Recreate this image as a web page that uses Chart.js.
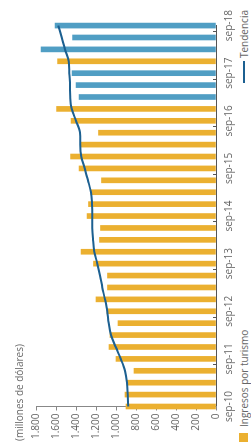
<!DOCTYPE html>
<html>
<head>
<meta charset="utf-8">
<script src="https://cdn.jsdelivr.net/npm/chart.js@4"></script>
<style>
  html, body { margin: 0; padding: 0; background: #fff; overflow: hidden; }
  /* the whole chart is drawn upright, then turned a quarter to the left */
  #giro {
    position: absolute; left: 0; top: 0;
    width: 443px; height: 251px;
    transform-origin: 0 0;
    transform: translateY(443px) rotate(-90deg);
    font-family: 'Open Sans', sans-serif;
  }
  #leyenda {
    box-sizing: border-box; width: 443px; height: 15px;
    display: flex; justify-content: space-between; align-items: center;
    padding: 0 10px 0 1px; font-size: 10px; color: #666;
  }
  #leyenda span { display: flex; align-items: center; }
  .caja { width: 9px; height: 9px; background: #ebb030; margin-right: 6px; }
  .raya { width: 22px; height: 2px; background: #1c6091; margin-right: 3px; }
</style>
</head>
<body>
<div id="giro">
  <canvas id="myChart" width="443" height="236"></canvas>
  <div id="leyenda">
    <span><i class="caja"></i>Ingresos por turismo</span>
    <span><i class="raya"></i>Tendencia</span>
  </div>
</div>
<script>
const trimestres = ['sep-10','dic-10','mar-11','jun-11','sep-11','dic-11','mar-12','jun-12','sep-12','dic-12',
  'mar-13','jun-13','sep-13','dic-13','mar-14','jun-14','sep-14','dic-14','mar-15','jun-15','sep-15','dic-15',
  'mar-16','jun-16','sep-16','dic-16','mar-17','jun-17','sep-17','dic-17','mar-18','jun-18','sep-18'];

const ingresos = [900, 910, 890, 820, 1000, 1070, 1060, 980, 1090, 1200, 1085, 1085, 1225, 1350, 1165, 1155,
  1290, 1275, 1250, 1145, 1370, 1455, 1350, 1175, 1450, 1595, 1370, 1400, 1440, 1585, 1750, 1435, 1610];

const tendencia = [877, 883, 890, 910, 953, 1003, 1050, 1073, 1087, 1110, 1137, 1160, 1187, 1217, 1230, 1237,
  1237, 1240, 1250, 1280, 1313, 1347, 1357, 1360, 1400, 1443, 1457, 1460, 1467, 1473, 1510, 1543, 1577];

// quarters painted in blue
const resaltados = ['mar-17','jun-17','sep-17','mar-18','jun-18','sep-18'];

const valoresEje = [0, 1800, 200];

Chart.defaults.font.family = "'Open Sans', sans-serif";
Chart.defaults.font.size = 10;
Chart.defaults.color = '#666';

const ctx = document.getElementById('myChart').getContext('2d');
const myChart = new Chart(ctx, {
  type: 'bar',
  data: {
    labels: trimestres,
    datasets: [{
      type: 'line',
      label: 'Tendencia',
      data: tendencia,
      borderColor: '#1c6091',
      borderWidth: 2,
      pointRadius: 0,
      cubicInterpolationMode: 'monotone',
      order: 0
    }, {
      label: 'Ingresos por turismo',
      data: ingresos,
      backgroundColor: trimestres.map(t => resaltados.includes(t) ? '#509ec4' : '#ebb030'),
      barThickness: 5,
      clip: false,
      order: 1
    }]
  },
  options: {
    responsive: false,
    animation: false,
    layout: { padding: { left: 2, right: 22.5, bottom: 1, top: 0 } },
    plugins: {
      legend: { display: false },
      tooltip: { enabled: false },
      title: {
        display: true,
        text: '(millones de dólares)',
        align: 'start',
        color: '#666',
        font: { size: 10, weight: 'normal' },
        padding: { top: 14, bottom: 10 }
      }
    },
    scales: {
      x: {
        offset: false,
        grid: {
          drawOnChartArea: false,
          tickLength: -3,
          color: c => (c.tick && c.tick.label) ? '#555' : 'rgba(0,0,0,0)'
        },
        border: { color: '#555' },
        ticks: {
          autoSkip: false,
          maxRotation: 0,
          padding: 10,
          callback: (v, i) => trimestres[i].startsWith('sep') ? trimestres[i] : ''
        },
        afterFit: s => { s.height = 19; }
      },
      y: {
        min: valoresEje[0],
        max: valoresEje[1],
        grid: { drawOnChartArea: false, tickLength: 4, color: '#888' },
        border: { color: '#888' },
        ticks: {
          stepSize: valoresEje[2],
          padding: 3,
          callback: v => String(v).replace(/\B(?=(\d{3})+(?!\d))/g, '.')
        },
        afterFit: s => { s.width = 34.5; }
      }
    }
  }
});
</script>
</body>
</html>
